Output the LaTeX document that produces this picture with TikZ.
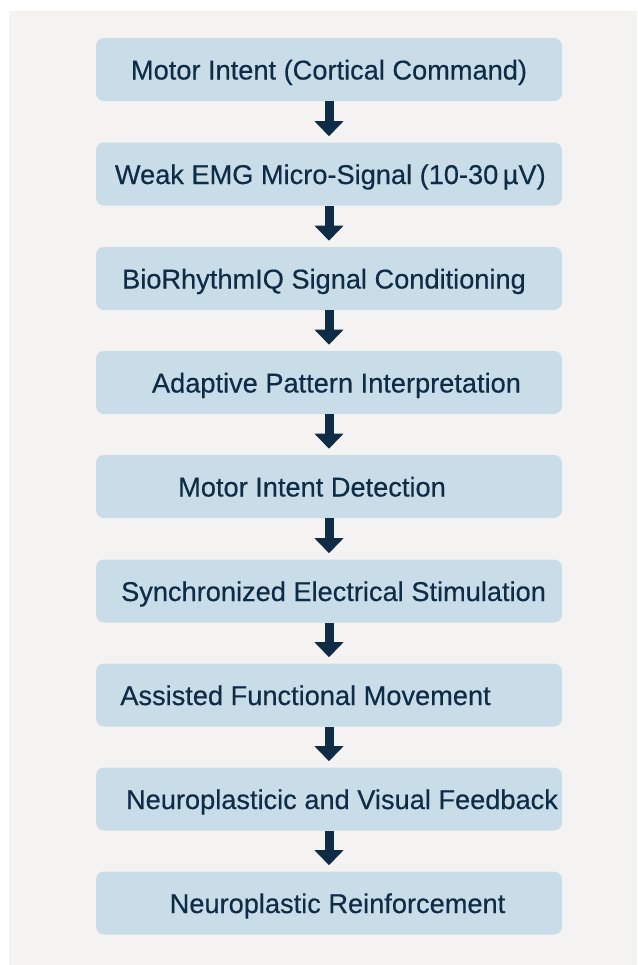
\documentclass[tikz,border=0pt]{standalone}
\usepackage{fontspec}
\setmainfont[FakeBold=0.4]{Liberation Sans}
\usetikzlibrary{arrows.meta,positioning}

\definecolor{pagegray}{HTML}{F4F3F1}
\definecolor{boxblue}{HTML}{C9DDE8}
\definecolor{inkblue}{HTML}{0F2C46}

\begin{document}
\begin{tikzpicture}[x=0.75pt,y=-0.75pt]
\tikzset{box/.style = {fill=boxblue, rounded corners=6pt, minimum width=349.5pt, minimum height=47.25pt, inner sep=0pt},
  lbl/.style = {text=inkblue, font=\fontsize{20.4}{24}\selectfont, anchor=base, inner sep=0pt},
  flow/.style = {draw=inkblue, line width=6.75pt, -{Triangle[width=21pt,length=11.25pt]}, shorten >=4.5pt}}
\def\midx{329}
\def\lift{-7.5pt}

% page and grey panel
\useasboundingbox (0,0) rectangle (637,965);
\fill[pagegray] (9,11) rectangle (637,965);

% the nine stages
\node[box] (intent) at (\midx,69.5) {};
\node[box] (emg) at (\midx,174) {};
\node[box] (cond) at (\midx,278.5) {};
\node[box] (interp) at (\midx,382.5) {};
\node[box] (detect) at (\midx,486.5) {};
\node[box] (stim) at (\midx,591) {};
\node[box] (move) at (\midx,695) {};
\node[box] (fback) at (\midx,799) {};
\node[box] (reinf) at (\midx,903) {};

\node[lbl] (intent-t) at ([yshift=\lift]intent.center) {Motor Intent (Cortical Command)};
\node[lbl] (emg-t) at ([xshift=1pt,yshift=\lift]emg.center) {Weak EMG Micro-Signal (10-30\,µV)};
\node[lbl] (cond-t) at ([xshift=-3.75pt,yshift=\lift]cond.center) {BioRhythmIQ Signal Conditioning};
\node[lbl] (interp-t) at ([xshift=5.6pt,yshift=\lift]interp.center) {Adaptive Pattern Interpretation};
\node[lbl] (detect-t) at ([xshift=-12.75pt,yshift=\lift]detect.center) {Motor Intent Detection};
\node[lbl] (stim-t) at ([xshift=3.4pt,yshift=\lift]stim.center) {Synchronized Electrical Stimulation};
\node[lbl] (move-t) at ([xshift=-17.6pt,yshift=\lift]move.center) {Assisted Functional Movement};
\node[lbl] (fback-t) at ([xshift=9.75pt,yshift=\lift]fback.center) {Neuroplasticic and Visual Feedback};
\node[lbl] (reinf-t) at ([xshift=6.4pt,yshift=\lift]reinf.center) {Neuroplastic Reinforcement};

% arrows between stages
\draw[flow] (intent) -- (emg);
\draw[flow] (emg) -- (cond);
\draw[flow] (cond) -- (interp);
\draw[flow] (interp) -- (detect);
\draw[flow] (detect) -- (stim);
\draw[flow] (stim) -- (move);
\draw[flow] (move) -- (fback);
\draw[flow] (fback) -- (reinf);
\end{tikzpicture}
\end{document}
